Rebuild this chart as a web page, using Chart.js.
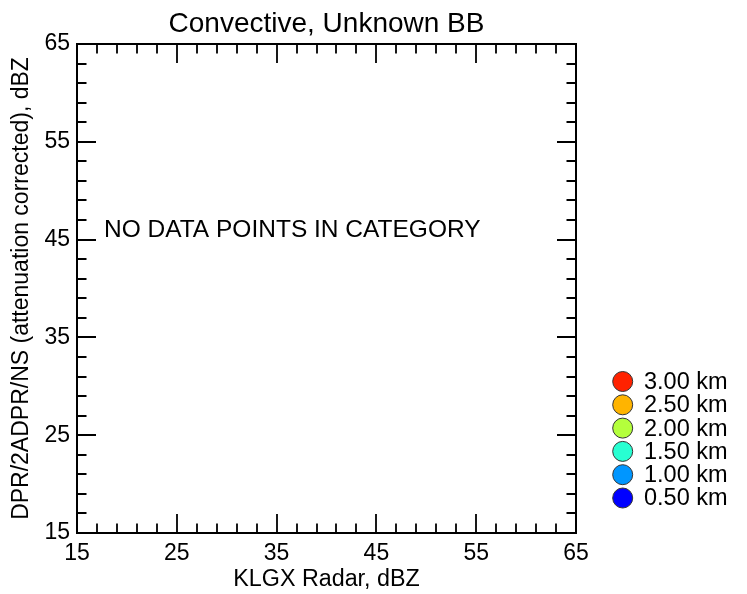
<!DOCTYPE html>
<html>
<head>
<meta charset="utf-8">
<script src="https://cdn.jsdelivr.net/npm/chart.js@4"></script>
<style>
    html, body { margin: 0; padding: 0; background: #fff; }
</style>
</head>
<body>
<canvas id="scatterChart" width="747" height="594"></canvas>
<script>
const chartTitle = 'Convective, Unknown BB';
const xTitle = 'KLGX Radar, dBZ';
const yTitle = 'DPR/2ADPR/NS (attenuation corrected), dBZ';
const noDataText = 'NO DATA POINTS IN CATEGORY';

const axisMin = 15;
const axisMax = 65;
const majorTicks = [15, 25, 35, 45, 55, 65];
const minorTicks = [17, 19, 21, 23, 27, 29, 31, 33, 37, 39, 41, 43, 47, 49, 51, 53, 57, 59, 61, 63];

// heights shown in the legend, top to bottom
const heightLabels = ['3.00 km', '2.50 km', '2.00 km', '1.50 km', '1.00 km', '0.50 km'];
const heightColors = ['#ff2200', '#ffb400', '#b4ff3c', '#28ffd2', '#0096ff', '#0000ff'];
// no points in this category, one empty series per height
const heightPoints = [[], [], [], [], [], []];

// where the "no data" note sits, in data units
const noteX = 17.7;
const noteY = 46;

const fontFamily = '"Liberation Sans", Arial, Helvetica, sans-serif';
Chart.defaults.font.family = fontFamily;
Chart.defaults.color = '#000';

// frame, inward ticks, note and legend drawn on top of the chart
const framePlugin = {
    id: 'framePlugin',
    afterDraw(chart) {
        const ctx = chart.ctx;
        const {left, right, top, bottom} = chart.chartArea;
        const xs = chart.scales.x;
        const ys = chart.scales.y;
        const majorLen = 19;
        const minorLen = 9.5;

        ctx.save();
        ctx.strokeStyle = '#000';
        ctx.lineWidth = 2;
        ctx.strokeRect(left, top, right - left, bottom - top);

        ctx.lineWidth = 1.8;
        const drawTicks = (values, len) => {
            values.forEach(v => {
                const px = Math.round(xs.getPixelForValue(v));
                const py = Math.round(ys.getPixelForValue(v));
                ctx.beginPath();
                ctx.moveTo(px, bottom); ctx.lineTo(px, bottom - len);
                ctx.moveTo(px, top); ctx.lineTo(px, top + len);
                ctx.moveTo(left, py); ctx.lineTo(left + len, py);
                ctx.moveTo(right, py); ctx.lineTo(right - len, py);
                ctx.stroke();
            });
        };
        drawTicks(majorTicks, majorLen);
        drawTicks(minorTicks, minorLen);

        ctx.fillStyle = '#000';
        ctx.font = '24.5px ' + fontFamily;
        ctx.textAlign = 'left';
        ctx.textBaseline = 'middle';
        ctx.fillText(noDataText, xs.getPixelForValue(noteX), ys.getPixelForValue(noteY));

        // legend
        ctx.font = '23.5px ' + fontFamily;
        ctx.lineWidth = 1;
        heightLabels.forEach((label, i) => {
            const cy = 381.5 + i * 23.3;
            ctx.beginPath();
            ctx.arc(622.7, cy, 10, 0, Math.PI * 2);
            ctx.fillStyle = heightColors[i];
            ctx.fill();
            ctx.strokeStyle = '#333';
            ctx.stroke();
            ctx.fillStyle = '#000';
            ctx.fillText(label, 644, cy + 1);
        });
        ctx.restore();
    }
};

const ctx = document.getElementById('scatterChart').getContext('2d');
const chart = new Chart(ctx, {
    type: 'scatter',
    data: {
        datasets: heightLabels.map((label, i) => ({
            label: label,
            data: heightPoints[i],
            backgroundColor: heightColors[i],
            borderColor: '#333',
            pointRadius: 5
        }))
    },
    options: {
        responsive: false,
        animation: false,
        layout: {
            padding: {left: 0, right: 171, top: 0, bottom: 0}
        },
        scales: {
            x: {
                type: 'linear',
                min: axisMin,
                max: axisMax,
                afterBuildTicks: s => { s.ticks = majorTicks.map(v => ({value: v})); },
                afterFit: s => { s.height = 61; },
                grid: {display: false, drawTicks: false},
                border: {display: false},
                ticks: {
                    font: {size: 23},
                    padding: 7,
                    maxRotation: 0
                },
                title: {
                    display: true,
                    text: xTitle,
                    font: {size: 23.3},
                    padding: {top: 0, bottom: 0}
                }
            },
            y: {
                type: 'linear',
                min: axisMin,
                max: axisMax,
                afterBuildTicks: s => { s.ticks = majorTicks.map(v => ({value: v})); },
                afterFit: s => { s.width = 77; },
                grid: {display: false, drawTicks: false},
                border: {display: false},
                ticks: {
                    font: {size: 23},
                    padding: 7
                },
                title: {
                    display: true,
                    text: yTitle,
                    font: {size: 23},
                    padding: {top: 8, bottom: 0}
                }
            }
        },
        plugins: {
            legend: {display: false},
            tooltip: {enabled: false},
            title: {
                display: true,
                text: chartTitle,
                fullSize: false,
                color: '#000',
                font: {size: 28, weight: 'normal'},
                padding: {top: 7, bottom: 3.4}
            }
        }
    },
    plugins: [framePlugin]
});
</script>
</body>
</html>
